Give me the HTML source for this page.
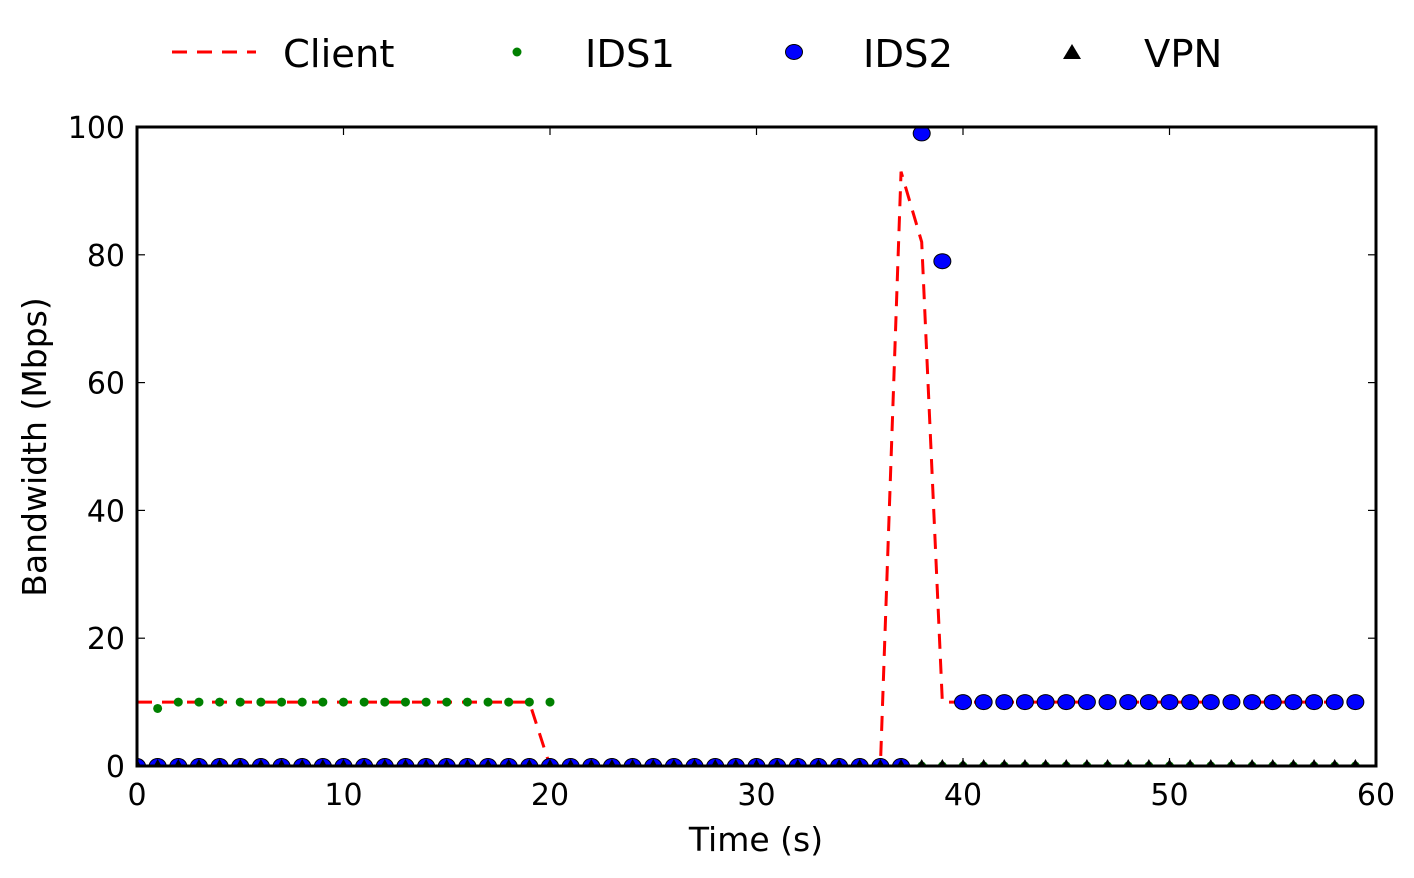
<!DOCTYPE html>
<html><head><meta charset="utf-8">
<style>
html,body{margin:0;padding:0;background:#fff;}
svg{display:block;font-family:"DejaVu Sans","Liberation Sans",sans-serif;}
</style></head>
<body>
<svg id="chart" width="1414" height="878" viewBox="0 0 1414 878" xmlns="http://www.w3.org/2000/svg">
<defs><clipPath id="clip"><rect x="137" y="127" width="1239" height="639"/></clipPath></defs>
<g id="legend">
  <g>
    <line x1="172" y1="52" x2="256" y2="52" stroke="red" stroke-width="3" stroke-dasharray="15,10"/>
    <text x="283" y="67" font-size="38.5">Client</text>
  </g>
  <g>
    <circle cx="517" cy="52" r="4.5" fill="green"/>
    <text x="585" y="67" font-size="38.5">IDS1</text>
  </g>
  <g>
    <ellipse cx="794" cy="52" rx="8.5" ry="7.5" fill="blue" stroke="#000" stroke-width="1"/>
    <text x="863" y="67" font-size="38.5">IDS2</text>
  </g>
  <g>
    <polygon points="1072,44 1081,59 1063,59" fill="#000"/>
    <text x="1144" y="67" font-size="38.5">VPN</text>
  </g>
</g>
<g id="axes"></g>
<g id="marks" clip-path="url(#clip)"></g>
<rect x="137" y="127" width="1239" height="639" fill="none" stroke="#000" stroke-width="3"/>
<text x="756" y="851" font-size="33" text-anchor="middle">Time (s)</text>
<text transform="translate(46,447) rotate(-90)" font-size="33" text-anchor="middle">Bandwidth (Mbps)</text>
</svg>
<script>
const xTicks=[0,10,20,30,40,50,60];
const yTicks=[0,20,40,60,80,100];
const times=[];for(let i=0;i<60;i++)times.push(i);
const clientVals=[10,10,10,10,10,10,10,10,10,10,10,10,10,10,10,10,10,10,10,10,0,0,0,0,0,0,0,0,0,0,0,0,0,0,0,0,0,93,82,10,10,10,10,10,10,10,10,10,10,10,10,10,10,10,10,10,10,10,10,10];
const ids1Vals=[null,9,10,10,10,10,10,10,10,10,10,10,10,10,10,10,10,10,10,10,10,0,0,0,0,0,0,0,0,0,0,0,0,0,0,0,0,0,0,0,0,0,0,0,0,0,0,0,0,0,0,0,0,0,0,0,0,0,0,0];
const ids2Vals=[0,0,0,0,0,0,0,0,0,0,0,0,0,0,0,0,0,0,0,0,0,0,0,0,0,0,0,0,0,0,0,0,0,0,0,0,0,0,99,79,10,10,10,10,10,10,10,10,10,10,10,10,10,10,10,10,10,10,10,10];
const vpnVals=[0,0,0,0,0,0,0,0,0,0,0,0,0,0,0,0,0,0,0,0,0,0,0,0,0,0,0,0,0,0,0,0,0,0,0,0,0,0,0,0,0,0,0,0,0,0,0,0,0,0,0,0,0,0,0,0,0,0,0,0];
const NS="http://www.w3.org/2000/svg";
const X=v=>137+v*(1239/60);
const Y=v=>766-v*(639/100);
function mk(tag,attrs,parent){const e=document.createElementNS(NS,tag);for(const k in attrs)e.setAttribute(k,attrs[k]);parent.appendChild(e);return e;}
const axes=document.getElementById('axes');
const marks=document.getElementById('marks');
xTicks.forEach(t=>{
  const g=mk('g',{},axes);
  
  
  mk('line',{x1:X(t),x2:X(t),y1:766,y2:758,stroke:'#000','stroke-width':1.2},g);
  mk('line',{x1:X(t),x2:X(t),y1:127,y2:135,stroke:'#000','stroke-width':1.2},g);
  const tx=mk('text',{x:X(t),y:805,'font-size':30,'text-anchor':'middle'},g);tx.textContent=t;
});
yTicks.forEach(t=>{
  const g=mk('g',{},axes);
  
  
  mk('line',{x1:137,x2:145,y1:Y(t),y2:Y(t),stroke:'#000','stroke-width':1.2},g);
  mk('line',{x1:1376,x2:1368,y1:Y(t),y2:Y(t),stroke:'#000','stroke-width':1.2},g);
  const tx=mk('text',{x:125,y:Y(t)+11,'font-size':30,'text-anchor':'end'},g);tx.textContent=t;
});
const pl=mk('polyline',{points:times.map((t,i)=>X(t)+','+Y(clientVals[i])).join(' '),fill:'none',stroke:'red','stroke-width':3,'stroke-dasharray':'15,10'},marks);


times.forEach((t,i)=>{if(ids1Vals[i]==null)return;
  const c=mk('circle',{cx:X(t),cy:Y(ids1Vals[i]),r:4.5,fill:'green'},marks);
  
  
});
times.forEach((t,i)=>{
  const c=mk('ellipse',{cx:X(t),cy:Y(ids2Vals[i]),rx:8.5,ry:7.5,fill:'blue',stroke:'#000','stroke-width':1},marks);
  
  
});
times.forEach((t,i)=>{
  const x=X(t),y=Y(vpnVals[i]);
  const p=mk('polygon',{points:`${x},${y-7} ${x+6},${y+4} ${x-6},${y+4}`,fill:'#000'},marks);
  
  
});
</script>
</body></html>
